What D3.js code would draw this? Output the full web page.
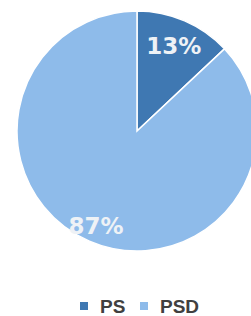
<!DOCTYPE html>
<html><head><meta charset="utf-8">
<script src="https://cdn.jsdelivr.net/npm/d3@7"></script>
<style>body{margin:0;background:#fff}svg{display:block}</style>
</head><body>
<script>
const categories = ["PS", "PSD"];
const values = [13, 87];
const labels = ["13%", "87%"];
const colors = ["#3f78b2", "#8ebbea"];

const W = 251, H = 316;
const cx = 137, cy = 131, r = 120;
const svg = d3.select("body").append("svg").attr("width", W).attr("height", H);
const g = svg.append("g").attr("transform", `translate(${cx},${cy})`);
const pie = d3.pie().sort(null).value(d => d)(values);
const arc = d3.arc().innerRadius(0).outerRadius(r);
g.selectAll("path").data(pie).join("path")
  .attr("d", arc).attr("fill", (d, i) => colors[i])
  .attr("stroke", "#ffffff").attr("stroke-width", 1.5);
const labelRadius = [0.77, 0.86];
g.selectAll("text").data(pie).join("text")
  .attr("transform", (d, i) => {
    const rr = r * labelRadius[i];
    const c = d3.arc().innerRadius(rr).outerRadius(rr).centroid(d);
    return `translate(${c[0]},${c[1]})`;
  })
  .attr("text-anchor", "middle").attr("dominant-baseline", "central")
  .attr("font-family", "DejaVu Sans").attr("font-weight", "bold")
  .attr("font-size", 23).attr("fill", "#eef2f6")
  .text((d, i) => labels[i]);

const legend = svg.append("g").attr("transform", "translate(80,306)");
const items = legend.selectAll("g").data(categories).join("g")
  .attr("transform", (d, i) => `translate(${i * 60},0)`);
items.append("rect").attr("x", 0).attr("y", -4).attr("width", 8).attr("height", 8)
  .attr("fill", (d, i) => colors[i]);
items.append("text").attr("x", 20).attr("y", 0).attr("dominant-baseline", "central")
  .attr("font-family", "Liberation Sans").attr("font-weight", "bold").attr("font-size", 19)
  .attr("fill", "#404040").text(d => d);
</script>
</body></html>
